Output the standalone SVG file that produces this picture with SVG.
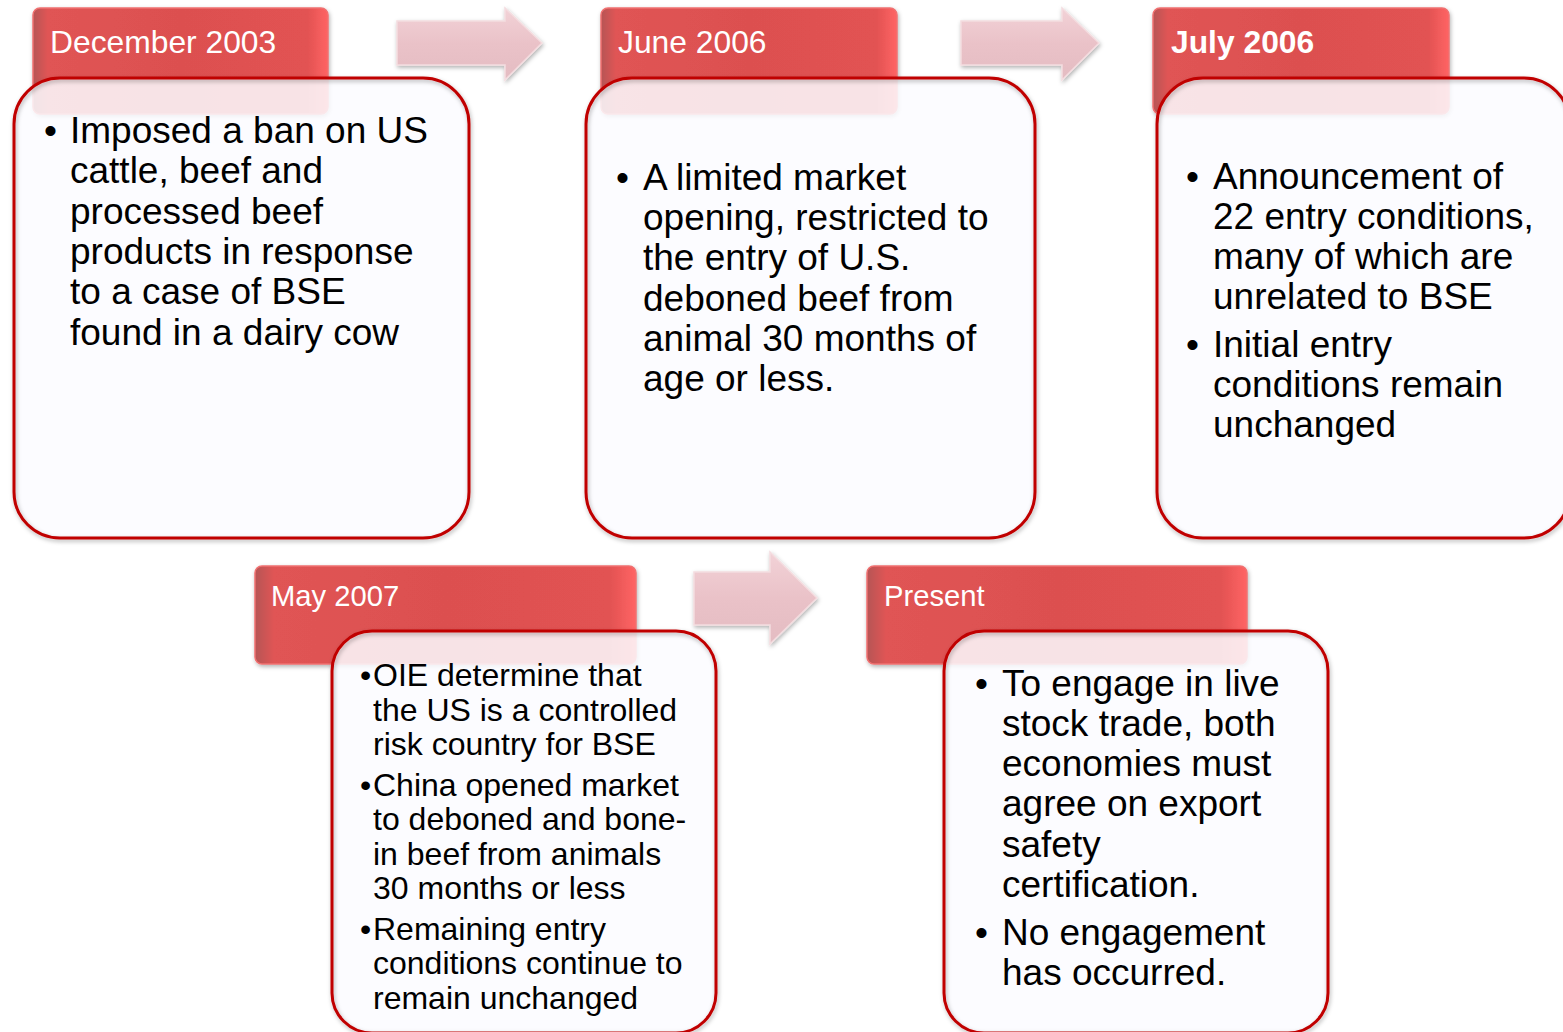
<svg xmlns="http://www.w3.org/2000/svg" width="1563" height="1032" viewBox="0 0 1563 1032">
<defs>
<linearGradient id="hdrH" x1="0" y1="0" x2="1" y2="0">
<stop offset="0" stop-color="#b65454"/>
<stop offset="0.05" stop-color="#e05454"/>
<stop offset="0.5" stop-color="#dc5050"/>
<stop offset="0.93" stop-color="#e25252"/>
<stop offset="1" stop-color="#ff6464"/>
</linearGradient>
<linearGradient id="arr" x1="0" y1="0" x2="0" y2="1">
<stop offset="0" stop-color="#f2d2d7"/>
<stop offset="0.5" stop-color="#eac2c8"/>
<stop offset="1" stop-color="#e4bcc2"/>
</linearGradient>
<filter id="sh" x="-10%" y="-10%" width="120%" height="120%">
<feDropShadow dx="1" dy="2" stdDeviation="2" flood-color="#000" flood-opacity="0.3"/>
</filter>
</defs>
<style>
.hdr{fill:url(#hdrH);stroke:#f07070;stroke-width:1.5;filter:url(#sh)}
.box{fill:#fcfcff;fill-opacity:0.86;stroke:none}
.edge{fill:none;stroke:#c00000;stroke-width:3;filter:url(#sh)}
.arrow{fill:url(#arr);stroke:#f4dde0;stroke-width:1.5;filter:url(#sh)}
.ht{font-family:"Liberation Sans",Arial,sans-serif;fill:#fff}
.bt{font-family:"Liberation Sans",Arial,sans-serif;fill:#000;font-size:37px}
.st{font-family:"Liberation Sans",Arial,sans-serif;fill:#000;font-size:32px}
</style>
<g id="connectors">
<path class="arrow" d="M397,21 H505 V8 L542,43 L505,80 V65 H397 Z"/>
<path class="arrow" d="M961,21 H1062 V8 L1099,43 L1062,80 V65 H961 Z"/>
<path class="arrow" d="M694,572 H770 V552 L817,598 L770,644 V625 H694 Z"/>
</g>
<g id="node-dec2003">
<rect class="hdr" x="33" y="8" width="295" height="106" rx="7"/>
<text class="ht" x="50" y="53" font-size="31.8">December 2003</text>
<rect class="box" x="14" y="78" width="455" height="460" rx="46"/>
<rect class="edge" x="14" y="78" width="455" height="460" rx="46"/>
<text class="bt"><tspan x="44" y="143">•</tspan><tspan x="70" y="143">Imposed a ban on US</tspan><tspan x="70" y="183">cattle, beef and</tspan><tspan x="70" y="224">processed beef</tspan><tspan x="70" y="264">products in response</tspan><tspan x="70" y="304">to a case of BSE</tspan><tspan x="70" y="345">found in a dairy cow</tspan></text>
</g>
<g id="node-jun2006">
<rect class="hdr" x="601" y="8" width="296" height="106" rx="7"/>
<text class="ht" x="618" y="53" font-size="31.8">June 2006</text>
<rect class="box" x="586" y="78" width="449" height="460" rx="46"/>
<rect class="edge" x="586" y="78" width="449" height="460" rx="46"/>
<text class="bt"><tspan x="616" y="190">•</tspan><tspan x="643" y="190">A limited market</tspan><tspan x="643" y="230">opening, restricted to</tspan><tspan x="643" y="270">the entry of U.S.</tspan><tspan x="643" y="311">deboned beef from</tspan><tspan x="643" y="351">animal 30 months of</tspan><tspan x="643" y="391">age or less.</tspan></text>
</g>
<g id="node-jul2006">
<rect class="hdr" x="1153" y="8" width="296" height="106" rx="7"/>
<text class="ht" x="1171" y="53" font-size="31.8" font-weight="bold">July 2006</text>
<rect class="box" x="1157" y="78" width="413" height="460" rx="46"/>
<rect class="edge" x="1157" y="78" width="413" height="460" rx="46"/>
<text class="bt"><tspan x="1186" y="189">•</tspan><tspan x="1213" y="189">Announcement of</tspan><tspan x="1213" y="229">22 entry conditions,</tspan><tspan x="1213" y="269">many of which are</tspan><tspan x="1213" y="309">unrelated to BSE</tspan><tspan x="1186" y="357">•</tspan><tspan x="1213" y="357">Initial entry</tspan><tspan x="1213" y="397">conditions remain</tspan><tspan x="1213" y="437">unchanged</tspan></text>
</g>
<g id="node-may2007">
<rect class="hdr" x="255" y="566" width="381" height="98" rx="7"/>
<text class="ht" x="271" y="606" font-size="29.2">May 2007</text>
<rect class="box" x="332" y="631" width="384" height="402" rx="40"/>
<rect class="edge" x="332" y="631" width="384" height="402" rx="40"/>
<text class="st"><tspan x="360" y="686">•</tspan><tspan x="373" y="686">OIE determine that</tspan><tspan x="373" y="721">the US is a controlled</tspan><tspan x="373" y="755">risk country for BSE</tspan><tspan x="360" y="796">•</tspan><tspan x="373" y="796">China opened market</tspan><tspan x="373" y="830">to deboned and bone-</tspan><tspan x="373" y="865">in beef from animals</tspan><tspan x="373" y="899">30 months or less</tspan><tspan x="360" y="940">•</tspan><tspan x="373" y="940">Remaining entry</tspan><tspan x="373" y="974">conditions continue to</tspan><tspan x="373" y="1009">remain unchanged</tspan></text>
</g>
<g id="node-present">
<rect class="hdr" x="867" y="566" width="380" height="98" rx="7"/>
<text class="ht" x="884" y="606" font-size="29.2">Present</text>
<rect class="box" x="944" y="631" width="384" height="402" rx="40"/>
<rect class="edge" x="944" y="631" width="384" height="402" rx="40"/>
<text class="bt"><tspan x="975" y="696">•</tspan><tspan x="1002" y="696">To engage in live</tspan><tspan x="1002" y="736">stock trade, both</tspan><tspan x="1002" y="776">economies must</tspan><tspan x="1002" y="816">agree on export</tspan><tspan x="1002" y="857">safety</tspan><tspan x="1002" y="897">certification.</tspan><tspan x="975" y="945">•</tspan><tspan x="1002" y="945">No engagement</tspan><tspan x="1002" y="985">has occurred.</tspan></text>
</g>
</svg>
